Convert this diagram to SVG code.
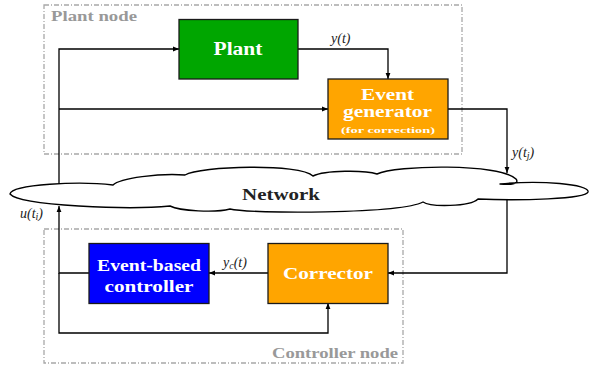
<svg xmlns="http://www.w3.org/2000/svg" width="589" height="371" viewBox="0 0 589 371">
<defs>
<marker id="arr" viewBox="0 0 10 10" refX="10" refY="5" markerWidth="6" markerHeight="6" markerUnits="userSpaceOnUse" orient="auto">
<path d="M0,1 L10,5 L0,9 z" fill="#000"/>
</marker>
</defs>
<style>
.frame{fill:none;stroke:#a8a8a8;stroke-width:1.3;stroke-dasharray:5 2 1 2}
.frameLabel{font-family:"Liberation Serif",serif;font-weight:bold;font-size:14px;fill:#999}
.box{stroke:#1a1a1a;stroke-width:1.3}
.btxt{font-family:"Liberation Serif",serif;font-weight:bold;fill:#fff;text-anchor:middle}
.wire{fill:none;stroke:#000;stroke-width:1.3}
.arrow{marker-end:url(#arr)}
.math{font-family:"Liberation Serif",serif;font-style:italic;font-size:14px;fill:#222}
.sub{font-size:10px}
</style>
<rect width="589" height="371" fill="#fff"/>
<g id="plant-node-frame">
<rect class="frame" x="44" y="5" width="418" height="149"/>
<text class="frameLabel" x="51" y="21" textLength="86" lengthAdjust="spacingAndGlyphs">Plant node</text>
</g>
<g id="controller-node-frame">
<rect class="frame" x="44" y="229" width="359" height="134"/>
<text class="frameLabel" x="272" y="358" textLength="126" lengthAdjust="spacingAndGlyphs">Controller node</text>
</g>
<g id="connectors">
<path class="wire arrow" d="M298,49 H388 V79"/>
<path class="wire arrow" d="M59,190 V49 H179"/>
<path class="wire arrow" d="M59,109 H328"/>
<path class="wire arrow" d="M448,109 H507 V173"/>
<path class="wire arrow" d="M507,198 V273 H388"/>
<path class="wire arrow" d="M268,273 H209"/>
<path class="wire arrow" d="M89,273 H59 V206"/>
<path class="wire arrow" d="M59,273 V333 H328 V303"/>
<text class="math" x="331" y="43">y(t)</text>
<text class="math" x="512" y="157">y(t<tspan class="sub" dy="2">j</tspan><tspan dy="-2">)</tspan></text>
<text class="math" x="20" y="218">u(t<tspan class="sub" dy="2">i</tspan><tspan dy="-2">)</tspan></text>
<text class="math" x="223" y="267">y<tspan class="sub" dy="2">c</tspan><tspan dy="-2">(t)</tspan></text>
</g>
<g id="network">
<path d="M10,194 C12,184 80,181 113,185 C120,178 160,173 185,175 C200,166 300,163 313,176 C325,170 365,170 377,174 C395,165 500,163 516,179 C520,184 510,185 500,184 C540,180 590,184 588,192 C586,199 520,201 478,199 C470,207 430,207 423,202 C400,214 250,214 230,209 C215,213 180,211 170,206 C130,210 20,206 10,194 Z" fill="#fff" stroke="#000" stroke-width="1.4" stroke-linejoin="round"/>
<text x="281" y="200" font-family="Liberation Serif, serif" font-weight="bold" font-size="17" fill="#222" text-anchor="middle" textLength="78" lengthAdjust="spacingAndGlyphs">Network</text>
</g>
<g id="plant">
<rect class="box" x="179" y="19.5" width="119" height="59.5" fill="#00a600"/>
<text class="btxt" x="238" y="55" font-size="18" textLength="49" lengthAdjust="spacingAndGlyphs">Plant</text>
</g>
<g id="event-generator">
<rect class="box" x="328" y="79" width="120" height="60" fill="#ffa500"/>
<text class="btxt" x="387.5" y="100" font-size="16" textLength="53" lengthAdjust="spacingAndGlyphs">Event</text>
<text class="btxt" x="387.5" y="117" font-size="16" textLength="89" lengthAdjust="spacingAndGlyphs">generator</text>
<text class="btxt" x="388" y="133" font-size="8.5" textLength="94" lengthAdjust="spacingAndGlyphs">(for correction)</text>
</g>
<g id="event-based-controller">
<rect class="box" x="89" y="243.5" width="120" height="60" fill="#0000ff"/>
<text class="btxt" x="149" y="271" font-size="16" textLength="104" lengthAdjust="spacingAndGlyphs">Event-based</text>
<text class="btxt" x="149" y="292" font-size="16" textLength="89" lengthAdjust="spacingAndGlyphs">controller</text>
</g>
<g id="corrector">
<rect class="box" x="268" y="243.5" width="120" height="60" fill="#ffa500"/>
<text class="btxt" x="328" y="279" font-size="17" textLength="90" lengthAdjust="spacingAndGlyphs">Corrector</text>
</g>
</svg>
